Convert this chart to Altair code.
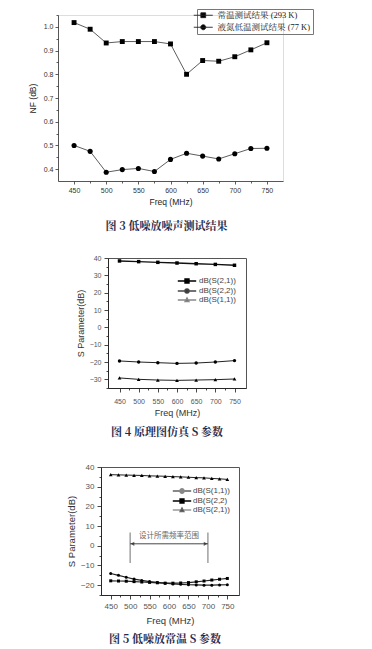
import altair as alt
import pandas as pd

# ---------------- data ----------------
freq_nf = [450, 475, 500, 525, 550, 575, 600, 625, 650, 675, 700, 725, 750]
nf_room = [1.018, 0.990, 0.932, 0.938, 0.938, 0.938, 0.928, 0.800, 0.858, 0.855, 0.874, 0.903, 0.933]
nf_ln2 = [0.500, 0.475, 0.387, 0.398, 0.403, 0.390, 0.441, 0.467, 0.455, 0.443, 0.465, 0.487, 0.488]
nf_labels = ["常温测试结果 (293 K)", "液氮低温测试结果 (77 K)"]
nf_xticks = [450, 500, 550, 600, 650, 700, 750]
nf_xminor = [475, 525, 575, 625, 675, 725]
nf_yticks = [0.4, 0.5, 0.6, 0.7, 0.8, 0.9, 1.0]
nf_yminor = [0.45, 0.55, 0.65, 0.75, 0.85, 0.95, 1.05]

freq_sim = [450, 500, 550, 600, 650, 700, 750]
sim_s21 = [38.3, 37.9, 37.5, 37.1, 36.7, 36.3, 35.8]
sim_s22 = [-19.4, -20.0, -20.4, -20.8, -20.6, -20.0, -19.2]
sim_s11 = [-29.2, -30.0, -30.4, -30.6, -30.4, -30.2, -29.8]
sim_labels = ["dB(S(2,1))", "dB(S(2,2))", "dB(S(1,1))"]
sim_yticks = [-30, -20, -10, 0, 10, 20, 30, 40]
sim_yminor = [-35, -25, -15, -5, 5, 15, 25, 35]

freq_meas = [450, 470, 490, 510, 530, 550, 570, 590, 610, 630, 650, 670, 690, 710, 730, 750]
meas_s11 = [-14.1, -15.0, -16.0, -16.9, -17.6, -18.2, -18.6, -19.0, -19.4, -19.6, -19.8, -19.9, -20.0, -20.0, -19.9, -19.8]
meas_s22 = [-17.8, -17.9, -18.0, -18.2, -18.4, -18.6, -18.8, -19.0, -19.0, -18.9, -18.7, -18.3, -17.9, -17.4, -17.0, -16.6]
meas_s21 = [36.1, 36.0, 35.9, 35.8, 35.7, 35.5, 35.4, 35.3, 35.1, 35.0, 34.8, 34.6, 34.5, 34.2, 34.0, 33.7]
meas_labels = ["dB(S(1,1))", "dB(S(2,2)", "dB(S(2,1))"]
meas_yticks = [-20, -10, 0, 10, 20, 30, 40]
meas_yminor = [-25, -15, -5, 5, 15, 25, 35]

s_xticks = [450, 500, 550, 600, 650, 700, 750]
s_xminor = [475, 525, 575, 625, 675, 725]

band_edges = [500, 700]
band_span = [-8.7, 6.8]
arrow_level = [1.0]
band_text = ["设计所需频率范围"]
band_text_pos = [600, 4.9]

captions = ["图 3  低噪放噪声测试结果", "图 4  原理图仿真 S 参数", "图 5  低噪放常温 S 参数"]

# ---------------- helpers ----------------
LAT = "Liberation Sans"
CJK_SERIF = "Liberation Serif, Noto Serif CJK SC, Noto Sans CJK SC"
CAP_COLOR = "#1f2b4d"


def sc(dom):
    return alt.Scale(domain=dom, nice=False, zero=False)


def long_df(freqs, vals, labels):
    rows = []
    for v, lab in zip(vals, labels):
        for f, y in zip(freqs, v):
            rows.append({"freq": f, "val": y, "series": lab})
    return pd.DataFrame(rows)


def axis_layers(df, xdom, ydom, xt, xm, yt, ym, xtitle, ytitle, yfmt, st):
    common = dict(grid=False, domainColor=st["dc"], tickColor=st["tc"], labelColor=st["lc"],
                  labelFont=LAT, titleFont=LAT, titleFontWeight="normal", titleColor=st["titc"],
                  labelFontSize=st["lfs"], titleFontSize=st["tfs"], labelFlush=False,
                  domainWidth=st["dw"], tickWidth=st["dw"])
    major = alt.Chart(df).mark_point(opacity=0).encode(
        x=alt.X("freq:Q", scale=sc(xdom),
                axis=alt.Axis(orient="bottom", values=xt, title=xtitle, tickSize=st["tick"],
                              labelPadding=st["xlp"], titlePadding=st["xtp"], format="d", **common)),
        y=alt.Y("val:Q", scale=sc(ydom),
                axis=alt.Axis(orient="left", values=yt, title=ytitle, tickSize=st["tick"], format=yfmt,
                              labelPadding=st["ylp"], titlePadding=st["ytp"], **common)),
    )
    minor = alt.Chart(df).mark_point(opacity=0).encode(
        x=alt.X("freq:Q", scale=sc(xdom),
                axis=alt.Axis(orient="bottom", values=xm, title=None, labels=False, domain=False,
                              tickSize=st["mtick"], tickColor=st["tc"], tickWidth=st["dw"], grid=False)),
        y=alt.Y("val:Q", scale=sc(ydom),
                axis=alt.Axis(orient="left", values=ym, title=None, labels=False, domain=False,
                              tickSize=st["mtick"], tickColor=st["tc"], tickWidth=st["dw"], grid=False)),
    )
    return [minor, major]


def series_layers(df, xdom, ydom, labels, lcolors, lwidths, shapes, sizes, mcolors):
    out = []
    for lab, lc, lw, sh, sz, mc in zip(labels, lcolors, lwidths, shapes, sizes, mcolors):
        base = alt.Chart(df).transform_filter(alt.FieldEqualPredicate(field="series", equal=lab))
        enc = dict(x=alt.X("freq:Q", scale=sc(xdom), axis=None),
                   y=alt.Y("val:Q", scale=sc(ydom), axis=None))
        out.append(base.mark_line(color=lc, strokeWidth=lw).encode(**enc))
        out.append(base.mark_point(shape=sh, filled=True, color=mc, size=sz, opacity=1).encode(**enc))
    return out


STUB = "M-4.6,0H4.6"
P_SQ = STUB + "M-0.95,-0.95H0.95V0.95H-0.95Z"
P_CI = STUB + "M1.0,0A1.0,1.0,0,1,1,-1.0,0A1.0,1.0,0,1,1,1.0,0Z"
P_TR = STUB + "M0,-1.1L1.0,0.8H-1.0Z"
P1_SQ = "M-4.75,0H4.75M-1.2,-1.2H1.2V1.2H-1.2Z"
P1_CI = "M-4.75,0H4.75M1.25,0A1.25,1.25,0,1,1,-1.25,0A1.25,1.25,0,1,1,1.25,0Z"


def legend_layer(df, xdom, ydom, labels, paths, strokes, fills, widths, leg):
    return alt.Chart(df).mark_point(filled=True, size=0).encode(
        x=alt.X("freq:Q", scale=sc(xdom), axis=None),
        y=alt.Y("val:Q", scale=sc(ydom), axis=None),
        shape=alt.Shape("series:N", scale=alt.Scale(domain=labels, range=paths), legend=leg),
        fill=alt.Fill("series:N", scale=alt.Scale(domain=labels, range=fills), legend=leg),
        stroke=alt.Stroke("series:N", scale=alt.Scale(domain=labels, range=strokes), legend=leg),
        strokeWidth=alt.StrokeWidth("series:N", scale=alt.Scale(domain=labels, range=widths), legend=leg),
    )


def caption(text, dx, offset):
    return alt.TitleParams(text=text, orient="bottom", anchor="middle", frame="group",
                           font="Noto Serif CJK SC, Noto Sans CJK SC", fontSize=11, fontWeight="bold",
                           color=CAP_COLOR, dx=dx, offset=offset)


def spacer(w):
    return alt.Chart(pd.DataFrame({"v": [0]})).mark_point(opacity=0).encode(
        x=alt.value(0), y=alt.value(0)).properties(
        width=w, height=10, view=alt.ViewBackground(stroke="transparent", strokeOpacity=0, fill="transparent"))


INDEP = dict(shape="independent", fill="independent", stroke="independent", strokeWidth="independent")

# ---------------- panel 1 : noise figure ----------------
df1 = long_df(freq_nf, [nf_room, nf_ln2], nf_labels)
x1, y1 = [425, 775], [0.35, 1.05]
st1 = dict(dc="#333", tc="#333", lc="#333", titc="#222", lfs=7, tfs=8.5, dw=0.8, tick=3, mtick=2,
           xlp=2, xtp=4, ylp=2, ytp=6)
leg1 = alt.Legend(title=None, orient="none", legendX=139, legendY=-6, strokeColor="#777", padding=2,
                  symbolSize=16, labelOffset=10, labelFont=CJK_SERIF, labelFontSize=8.5, labelColor="#222",
                  rowPadding=2, symbolOpacity=1)
p1 = alt.layer(
    *axis_layers(df1, x1, y1, nf_xticks, nf_xminor, nf_yticks, nf_yminor, "Freq (MHz)", "NF (dB)", ".1f", st1),
    *series_layers(df1, x1, y1, nf_labels, ["#333", "#333"], [0.8, 0.8], ["square", "circle"], [24, 26],
                   ["#000", "#000"]),
    legend_layer(df1, x1, y1, nf_labels, [P1_SQ, P1_CI], ["#222", "#222"], ["#000", "#000"], [0.9, 0.9], leg1),
).resolve_scale(x="independent", y="independent").resolve_axis(x="independent", y="independent").properties(
    width=225, height=166, title=caption(captions[0], -4, 15))

# ---------------- panel 2 : simulated S parameters ----------------
df2 = long_df(freq_sim, [sim_s21, sim_s22, sim_s11], sim_labels)
x2, y2 = [420, 780], [-35, 40]
st2 = dict(dc="#222", tc="#333", lc="#555", titc="#333", lfs=7, tfs=9, dw=0.9, tick=4, mtick=2,
           xlp=5, xtp=4, ylp=3, ytp=4)
leg2 = alt.Legend(title=None, orient="none", legendX=75, legendY=19, padding=0,
                  symbolSize=16, labelOffset=8, labelFont=LAT, labelFontSize=8, labelColor="#444",
                  rowPadding=-1, symbolOpacity=1)
p2 = alt.layer(
    *axis_layers(df2, x2, y2, s_xticks, s_xminor, sim_yticks, sim_yminor, "Freq (MHz)", "S Parameter(dB)",
                 "d", st2),
    *series_layers(df2, x2, y2, sim_labels, ["#111", "#222", "#222"], [1.4, 1.0, 1.0],
                   ["square", "circle", "triangle-up"], [12, 12, 14], ["#000", "#000", "#000"]),
    legend_layer(df2, x2, y2, sim_labels, [P_SQ, P_CI, P_TR], ["#000", "#444", "#888"], ["#000", "#222", "#444"],
                 [1.6, 1.3, 1.3], leg2),
).resolve_scale(x="independent", y="independent").resolve_axis(x="independent", y="independent").properties(
    width=138, height=130, view=alt.ViewBackground(stroke="#555", strokeWidth=1),
    title=caption(captions[1], -10, 10))

# ---------------- panel 3 : measured S parameters ----------------
df3 = long_df(freq_meas, [meas_s11, meas_s22, meas_s21], meas_labels)
x3, y3 = [425, 780], [-25, 40]
st3 = dict(dc="#222", tc="#333", lc="#555", titc="#333", lfs=8, tfs=9.5, dw=0.9, tick=4, mtick=2,
           xlp=3, xtp=5, ylp=3, ytp=4)
leg3 = alt.Legend(title=None, orient="none", legendX=77, legendY=20, padding=0,
                  symbolSize=16, labelOffset=7, labelFont=LAT, labelFontSize=8, labelColor="#444",
                  rowPadding=-1.5, symbolOpacity=1)

band_df = pd.DataFrame({"x": band_edges, "y1": [band_span[0]] * 2, "y2": [band_span[1]] * 2})
arrow_df = pd.DataFrame({"x": [band_edges[0]], "x2": [band_edges[1]], "y": arrow_level})
head_l = pd.DataFrame({"x": [band_edges[0] + 6], "y": arrow_level})
head_r = pd.DataFrame({"x": [band_edges[1] - 6], "y": arrow_level})
text_df = pd.DataFrame({"x": [band_text_pos[0]], "y": [band_text_pos[1]], "t": band_text})

band_rules = alt.Chart(band_df).mark_rule(color="#999", strokeWidth=1.4).encode(
    x=alt.X("x:Q", scale=sc(x3), axis=None), y=alt.Y("y1:Q", scale=sc(y3), axis=None), y2="y2:Q")
arrow_line = alt.Chart(arrow_df).mark_rule(color="#333", strokeWidth=0.9).encode(
    x=alt.X("x:Q", scale=sc(x3), axis=None), x2="x2:Q", y=alt.Y("y:Q", scale=sc(y3), axis=None))
arrow_l = alt.Chart(head_l).mark_point(shape="triangle-left", filled=True, color="#222", size=18).encode(
    x=alt.X("x:Q", scale=sc(x3), axis=None), y=alt.Y("y:Q", scale=sc(y3), axis=None))
arrow_r = alt.Chart(head_r).mark_point(shape="triangle-right", filled=True, color="#222", size=18).encode(
    x=alt.X("x:Q", scale=sc(x3), axis=None), y=alt.Y("y:Q", scale=sc(y3), axis=None))
band_label = alt.Chart(text_df).mark_text(font="Noto Sans CJK SC", fontSize=7.5, color="#666").encode(
    x=alt.X("x:Q", scale=sc(x3), axis=None), y=alt.Y("y:Q", scale=sc(y3), axis=None), text="t:N")

p3 = alt.layer(
    *axis_layers(df3, x3, y3, s_xticks, s_xminor, meas_yticks, meas_yminor, "Freq (MHz)", "S Parameter(dB)",
                 "d", st3),
    band_rules, arrow_line, arrow_l, arrow_r, band_label,
    *series_layers(df3, x3, y3, meas_labels, ["#222", "#222", "#222"], [1.2, 1.2, 1.0],
                   ["circle", "square", "triangle-up"], [9, 9, 14], ["#000", "#000", "#000"]),
    legend_layer(df3, x3, y3, meas_labels, [P_CI, P_SQ, P_TR], ["#888", "#000", "#666"], ["#444", "#000", "#333"],
                 [1.8, 1.2, 1.2], leg3),
).resolve_scale(x="independent", y="independent").resolve_axis(x="independent", y="independent").properties(
    width=138, height=128, view=alt.ViewBackground(stroke="#555", strokeWidth=1),
    title=caption(captions[2], -5, 9))

row1 = alt.hconcat(spacer(16), p1, spacing=0).resolve_scale(**INDEP)
row2 = alt.hconcat(spacer(64), p2, spacing=0).resolve_scale(**INDEP)
row3 = alt.hconcat(spacer(54), p3, spacing=0).resolve_scale(**INDEP)

top = alt.vconcat(row1, row2, spacing=21).resolve_scale(**INDEP)
chart = alt.vconcat(top, row3, spacing=23).resolve_scale(**INDEP).properties(
    padding={"left": 0, "top": 0, "right": 0, "bottom": 0}
).configure_view(stroke="transparent").configure(background="white")

chart.save("out.html", embed_options={"renderer": "svg", "actions": False})
